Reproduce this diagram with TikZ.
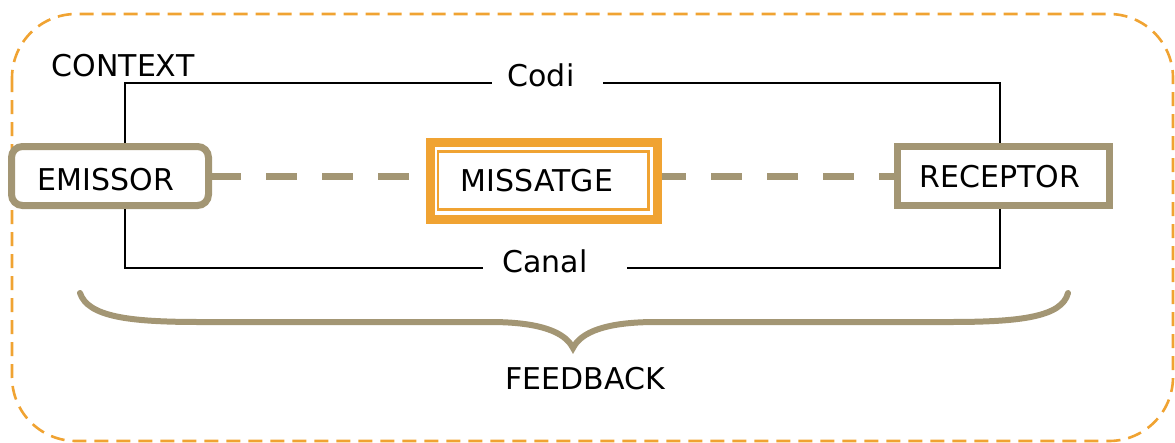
\documentclass[tikz,border=0pt]{standalone}
\usepackage{fontspec}
\setmainfont{DejaVu Sans}
\definecolor{tan}{RGB}{163,150,116}
\definecolor{amber}{RGB}{240,163,50}
\begin{document}
\begin{tikzpicture}[x=1pt,y=-1pt,
  lbl/.style={inner sep=0pt,anchor=base,font=\fontsize{30}{36}\selectfont},
  partbox/.style={draw=tan,line width=7pt,fill=white,inner sep=0pt},
  thinline/.style={draw=black,line width=1.6pt},
  dashconn/.style={draw=tan,line width=7pt,dash pattern=on 31pt off 25pt},
  framebox/.style={draw=amber,line width=2.6pt,dash pattern=on 14pt off 8pt,rounded corners=64pt}
]
\useasboundingbox (0,0) rectangle (1175,442);

% context frame
\draw[framebox] (12,14) rectangle (1173,441);
\node[lbl] (context) at (123,76) {CONTEXT};

% the three parts of the communication
\node[partbox,rounded corners=11pt,minimum width=197pt,minimum height=59pt] (emisor) at (110,176) {};
\node[partbox,minimum width=212pt,minimum height=59pt] (receptor) at (1003.5,176) {};
\node[draw=amber,line width=9pt,fill=white,inner sep=0pt,minimum width=227pt,minimum height=77pt] (missatge) at (544,181) {};
\node[draw=amber,line width=2.4pt,inner sep=0pt,minimum width=210.5pt,minimum height=58pt] (missatgeIn) at (543.25,180.5) {};

\node[lbl] (emisorTxt) at (106,190) {EMISSOR};
\node[lbl] (receptorTxt) at (1000,187) {RECEPTOR};
\node[lbl] (missatgeTxt) at (537,191) {MISSATGE};

% message flow
\draw[dashconn,dash phase=2pt] (emisor.east) -- (emisor.east -| missatge.west);
\draw[dashconn,dash phase=7pt] (receptor.west -| missatge.east) -- (receptor.west);

% code path (top)
\coordinate (cL) at (125,83);
\coordinate (cR) at (1000,83);
\coordinate (cg1) at (492,83);
\coordinate (cg2) at (603,83);
\draw[thinline] (emisor.north -| cL) -- (cL) -- (cg1);
\draw[thinline] (cg2) -- (cR) -- (receptor.north -| cR);
\node[lbl] (codi) at (541,86) {Codi};

% channel path (bottom)
\coordinate (kL) at (125,268);
\coordinate (kR) at (1000,268);
\coordinate (kg1) at (483,268);
\coordinate (kg2) at (627,268);
\draw[thinline] (emisor.south -| kL) -- (kL) -- (kg1);
\draw[thinline] (kg2) -- (kR) -- (receptor.south -| kR);
\node[lbl] (canal) at (545,272) {Canal};

% feedback brace
\draw[tan,line width=6pt,line cap=round]
  (80,293) .. controls (88,317) and (130,322) .. (200,322)
  -- (490,322) .. controls (540,322) and (565,332) .. (573,348)
  .. controls (581,332) and (606,322) .. (656,322)
  -- (950,322) .. controls (1020,322) and (1062,317) .. (1068,293);
\node[lbl] (feedback) at (585,389) {FEEDBACK};
\end{tikzpicture}
\end{document}
